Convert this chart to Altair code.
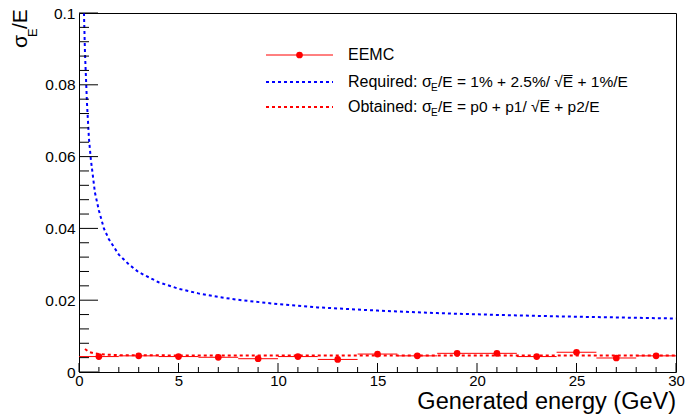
import altair as alt
import pandas as pd

# ---------------- data ----------------
E_pts = [1, 3, 5, 7, 9, 11, 13, 15, 17, 19, 21, 23, 25, 27, 29]
sigma_pts = [0.0043, 0.0045, 0.0043, 0.0041, 0.0037, 0.0043, 0.0035, 0.0050,
             0.0045, 0.0052, 0.0052, 0.0043, 0.0055, 0.0039, 0.0045]
E_halfwidth = [1] * len(E_pts)

E_req = [0.25, 0.3, 0.4, 0.5, 0.6, 0.8, 1.0, 1.25, 1.5, 2, 2.5, 3, 4, 5, 6, 7, 8,
         10, 12, 15, 18, 21, 24, 27, 30]
sigma_req = [0.100, 0.089, 0.075, 0.065, 0.059, 0.050, 0.045, 0.040, 0.037, 0.0327,
             0.0300, 0.0278, 0.0250, 0.0232, 0.0219, 0.0209, 0.0201, 0.0189, 0.0180,
             0.0171, 0.0164, 0.0159, 0.0155, 0.0152, 0.0149]

E_fit = [0.3, 0.5, 0.75, 1, 1.5, 2, 3, 5, 10, 15, 20, 25, 30]
sigma_fit = [0.0064, 0.0056, 0.0052, 0.0050, 0.0048, 0.0047, 0.0047, 0.0046,
             0.0046, 0.0046, 0.0046, 0.0046, 0.0046]

x_major = [0, 5, 10, 15, 20, 25, 30]
x_minor = [v for v in range(1, 30) if v % 5 != 0]
y_major = [0, 0.02, 0.04, 0.06, 0.08, 0.1]
y_minor = [round(i * 0.004, 3) for i in range(1, 25) if i % 5 != 0]

legend_labels = ["EEMC", "Required: ", "Obtained: "]
legend_tail = ["/E = 1% + 2.5%/ \u221aE\u0305 + 1%/E", "/E = p0 + p1/ \u221aE\u0305 + p2/E"]
x_title = "Generated energy (GeV)"

# ---------------- layout constants ----------------
W, H = 597, 359
FONT = "Liberation Sans"
RED = "#ff0000"
BLUE = "#0000ff"

xs = alt.Scale(domain=[0, 30], nice=False, zero=False)
ys = alt.Scale(domain=[0, 0.1], nice=False, zero=False)
x_axis = alt.Axis(values=x_major, ticks=False, domain=False, grid=False,
                  labelFontSize=15, labelFont=FONT, labelPadding=1,
                  labelColor="black", labelFlush=False, title=None)
y_axis = alt.Axis(values=y_major, ticks=False, domain=False, grid=False,
                  format=".2~f", labelFontSize=15.5, labelFont=FONT,
                  labelPadding=4, labelColor="black", title=None)

pts = pd.DataFrame({"E": E_pts, "s": sigma_pts,
                    "lo": [e - h for e, h in zip(E_pts, E_halfwidth)],
                    "hi": [e + h for e, h in zip(E_pts, E_halfwidth)]})
req = pd.DataFrame({"E": E_req, "s": sigma_req})
fit = pd.DataFrame({"E": E_fit, "s": sigma_fit})

X = lambda f: alt.X(f, scale=xs, axis=x_axis)
Y = lambda f: alt.Y(f, scale=ys, axis=y_axis)

blue = alt.Chart(req).mark_line(color=BLUE, strokeWidth=2, strokeDash=[3, 3], clip=True).encode(
    x=X("E:Q"), y=Y("s:Q"))
red_fit = alt.Chart(fit).mark_line(color=RED, strokeWidth=2, strokeDash=[3, 3], clip=True).encode(
    x=X("E:Q"), y=Y("s:Q"))
errbar = alt.Chart(pts).mark_rule(color=RED, strokeWidth=1).encode(
    x=X("lo:Q"), x2="hi:Q", y=Y("s:Q"))
dots = alt.Chart(pts).mark_circle(color=RED, size=45, opacity=1).encode(
    x=X("E:Q"), y=Y("s:Q"))

# inner ticks (ROOT style)
xmaj = alt.Chart(pd.DataFrame({"E": x_major})).mark_rule(color="black").encode(
    x=X("E:Q"), y=alt.value(H), y2=alt.value(H - 9))
xmin = alt.Chart(pd.DataFrame({"E": x_minor})).mark_rule(color="black").encode(
    x=X("E:Q"), y=alt.value(H), y2=alt.value(H - 5))
ymaj = alt.Chart(pd.DataFrame({"s": y_major})).mark_rule(color="black").encode(
    y=Y("s:Q"), x=alt.value(0), x2=alt.value(19))
ymin = alt.Chart(pd.DataFrame({"s": y_minor})).mark_rule(color="black").encode(
    y=Y("s:Q"), x=alt.value(0), x2=alt.value(10))

one = pd.DataFrame({"a": [0]})

def txt(s, x, y, size=15.5, align="left", baseline="middle", angle=None):
    kw = dict(text=s, align=align, baseline=baseline, fontSize=size, font=FONT, color="black")
    if angle is not None:
        kw["angle"] = angle
    return alt.Chart(one).mark_text(**kw).encode(x=alt.value(x), y=alt.value(y))

def rule(x1, x2, y, color, dash=None, width=1):
    kw = dict(color=color, strokeWidth=width)
    if dash:
        kw["strokeDash"] = dash
    return alt.Chart(one).mark_rule(**kw).encode(x=alt.value(x1), x2=alt.value(x2), y=alt.value(y))

# legend
LX1, LX2, TX = 187, 254, 269
rows = [42, 69, 94]
legend = [
    rule(LX1, LX2, rows[0], RED),
    alt.Chart(one).mark_circle(color=RED, size=45, opacity=1).encode(
        x=alt.value((LX1 + LX2) / 2), y=alt.value(rows[0])),
    rule(LX1, LX2, rows[1], BLUE, [3, 3], 2),
    rule(LX1, LX2, rows[2], RED, [3, 3], 2),
    txt(legend_labels[0], TX, rows[0], size=16),
]
for i, r in enumerate(rows[1:]):
    legend += [
        txt(legend_labels[i + 1], TX, r, size=16),
        txt("\u03c3", 343, r, size=16),
        txt("E", 352, r + 6, size=10),
        txt(legend_tail[i], 359, r),
    ]

# axis titles (rotated y title built from pieces for the subscript)
titles = [
    txt(x_title, W, 396, size=23.5, align="right", baseline="alphabetic"),
    txt("\u03c3", 27 - 79, 48 - 13, size=21, baseline="alphabetic", angle=270),
    txt("E", 37 - 79, 37 - 13, size=13, baseline="alphabetic", angle=270),
    txt("/E", 27 - 79, 29 - 13, size=21, baseline="alphabetic", angle=270),
]

chart = alt.layer(blue, red_fit, errbar, dots, xmaj, xmin, ymaj, ymin, *legend, *titles).properties(
    width=W, height=H,
    autosize=alt.AutoSizeParams(type="none"),
    padding={"left": 79, "top": 13, "right": 10, "bottom": 44},
    background="white",
).configure_view(stroke="black", strokeWidth=1)

chart.save("out.html", embed_options={"renderer": "svg", "actions": False})
